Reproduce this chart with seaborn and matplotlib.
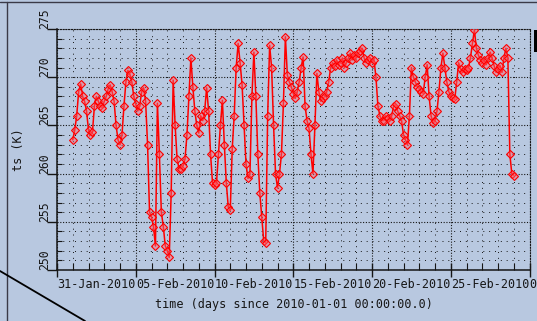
import numpy as np
import pandas as pd
import matplotlib
matplotlib.use('Agg')
import matplotlib.pyplot as plt
from matplotlib.lines import Line2D
from matplotlib.patches import Rectangle
import seaborn as sns

# ── colours / fonts ─────────────────────────────────────────
BG = '#b8c8e0'
INK = '#161616'
RED = '#ff0000'
MONO = ['DejaVu Sans Mono']

# ── data: surface temperature, 3-hourly from 01-Feb-2010 ────
start_day = 31.0      # days since 2010-01-01
step_days = 0.125     # 3 hours

ts = [
    263.5, 264.5, 266.0, 268.5, 269.3, 268.0, 267.5, 266.5,   # 01 Feb
    264.5, 264.0, 264.3, 267.0, 268.0, 267.5, 267.0, 266.8,   # 02 Feb
    267.5, 268.0, 268.8, 269.2, 268.5, 267.5, 265.0, 263.5,   # 03 Feb
    263.0, 264.0, 267.0, 269.5, 270.7, 270.3, 269.5, 268.0,   # 04 Feb
    267.2, 266.5, 267.0, 268.5, 268.9, 267.5, 263.0, 256.0,   # 05 Feb
    255.5, 254.5, 252.5, 267.3, 262.0, 256.0, 254.5, 252.5,   # 06 Feb
    252.0, 251.3, 258.0, 269.7, 265.0, 261.5, 260.5, 260.5,   # 07 Feb
    260.8, 261.5, 264.0, 268.0, 272.0, 269.0, 266.5, 265.0,   # 08 Feb
    264.2, 266.0, 265.5, 266.5, 268.9, 266.5, 262.0, 259.0,   # 09 Feb
    258.8, 259.0, 262.0, 265.0, 267.6, 263.0, 259.0, 256.5,   # 10 Feb
    256.2, 262.6, 266.0, 271.0, 273.5, 271.5, 269.2, 265.0,   # 11 Feb
    261.0, 259.5, 260.0, 268.0, 272.6, 268.0, 262.0, 258.0,   # 12 Feb
    255.5, 253.0, 252.8, 266.0, 273.3, 271.0, 265.0, 260.0,   # 13 Feb
    258.5, 260.0, 262.0, 267.3, 274.2, 270.2, 269.5, 269.0,   # 14 Feb
    268.3, 267.8, 268.5, 269.5, 271.0, 272.1, 267.0, 265.5,   # 15 Feb
    264.7, 262.0, 260.0, 265.0, 270.4, 268.5, 267.5, 267.8,   # 16 Feb
    268.0, 268.5, 269.5, 271.0, 271.5, 271.2, 271.8, 271.3,   # 17 Feb
    271.5, 272.0, 271.0, 271.5, 272.0, 272.5, 271.8, 272.3,   # 18 Feb
    272.0, 272.5, 272.7, 273.0, 272.0, 271.5, 271.8, 272.0,   # 19 Feb
    271.5, 271.8, 270.0, 267.0, 266.0, 265.5, 265.5, 266.0,   # 20 Feb
    265.8, 265.5, 266.0, 267.0, 267.2, 266.5, 266.0, 265.5,   # 21 Feb
    264.0, 263.5, 263.0, 266.0, 271.0, 270.0, 269.5, 269.0,   # 22 Feb
    268.8, 268.5, 268.3, 270.0, 271.3, 268.0, 266.0, 265.2,   # 23 Feb
    265.5, 266.5, 268.5, 271.0, 272.5, 271.0, 269.5, 268.5,   # 24 Feb
    268.0, 267.8, 267.7, 269.5, 271.5, 270.8, 270.5, 270.8,   # 25 Feb
    270.7, 271.0, 272.0, 273.5, 274.9, 273.0, 272.3, 271.8,   # 26 Feb
    271.5, 271.8, 271.3, 272.0, 272.6, 272.0, 271.2, 270.5,   # 27 Feb
    270.8, 271.2, 270.5, 272.0, 273.0, 272.0, 262.0, 260.0,   # 28 Feb
    259.8,
]

xtick_days = [30, 35, 40, 45, 50, 55, 60]
xtick_labels = ['31-Jan-2010', '05-Feb-2010', '10-Feb-2010', '15-Feb-2010',
                '20-Feb-2010', '25-Feb-2010', '02-Mar-2010']
ytick_vals = [250, 255, 260, 265, 270, 275]

df = pd.DataFrame({'day': start_day + step_days * np.arange(len(ts)),
                   'ts': ts})

# ── figure ──────────────────────────────────────────────────
sns.set_style('ticks')
plt.rcParams['font.family'] = MONO
W, H = 537, 321
fig = plt.figure(figsize=(W / 100, H / 100), dpi=100)
fig.patch.set_facecolor(BG)

ax = fig.add_axes([57 / W, 1 - 270 / H, (530 - 57) / W, (270 - 29) / H])
ax.set_facecolor(BG)

sns.lineplot(data=df, x='day', y='ts', ax=ax, color=RED, lw=1.1,
             marker='D', markersize=4.5, markeredgecolor=RED,
             markeredgewidth=0.8, markerfacecolor=(1, 0.4, 0.45, 0.45),
             zorder=3)

ax.set_xlim(30, 60.03)
ax.set_ylim(250, 275)

# ticks
ax.set_xticks(xtick_days)
ax.set_xticklabels(xtick_labels, ha='left', fontsize=8.5, color=INK)
ax.set_xticks(np.arange(30, 61), minor=True)
ax.set_yticks(ytick_vals)
ax.set_yticklabels([str(v) for v in ytick_vals], rotation=90,
                   va='bottom', ha='center', fontsize=8.3, color=INK)
ax.set_yticks(np.arange(250, 276), minor=True)

ax.tick_params(axis='x', which='major', direction='inout', length=10,
               width=1, color=INK, pad=1)
ax.tick_params(axis='x', which='minor', direction='in', length=5,
               width=0.8, color=INK)
ax.tick_params(axis='y', which='major', direction='out', length=7.2,
               width=1, color=INK, pad=1.5)
ax.tick_params(axis='y', which='minor', direction='in', length=3.5,
               width=0.8, color=INK)

# dotted grid
ax.set_axisbelow(True)
ax.grid(which='major', color=INK, lw=0.8, ls=(0, (1, 1.5)))
ax.grid(which='minor', color=INK, lw=0.7, ls=(0, (1, 5)))

for s in ['left', 'bottom']:
    ax.spines[s].set_color(INK)
    ax.spines[s].set_linewidth(1.1)
for s in ['top', 'right']:
    ax.spines[s].set_visible(True)
    ax.spines[s].set_color(INK)
    ax.spines[s].set_linewidth(0.8)
    ax.spines[s].set_linestyle((0, (1, 1.5)))

ax.set_xlabel('time (days since 2010-01-01 00:00:00.0)', fontsize=8.5,
              color=INK, labelpad=5)
ax.set_ylabel('ts (K)', fontsize=8.5, color=INK, labelpad=10)

# ── frame artefacts of the original window ──────────────────
fig.add_artist(Line2D([0, 1], [1 - 2 / H, 1 - 2 / H],
                      transform=fig.transFigure, color='#3a3a48', lw=1))
fig.add_artist(Line2D([7 / W, 7 / W], [0, 1 - 2 / H],
                      transform=fig.transFigure, color='#3a3a48', lw=1))
fig.add_artist(Line2D([0, 85 / W], [1 - 271 / H, 0],
                      transform=fig.transFigure, color='black', lw=1.3))
fig.add_artist(Rectangle((534 / W, 1 - 52 / H), 3 / W, 22 / H,
                         transform=fig.transFigure, facecolor='black',
                         edgecolor='none'))

fig.savefig('out.png', dpi=100, facecolor=BG)
plt.close(fig)
